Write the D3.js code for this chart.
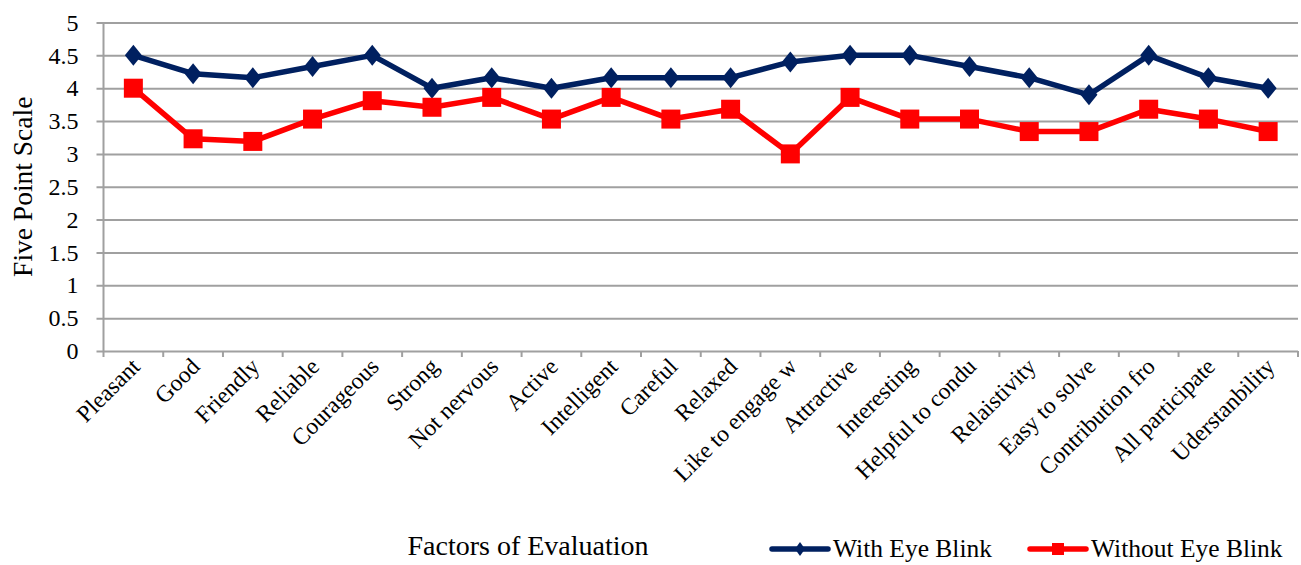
<!DOCTYPE html>
<html>
<head>
<meta charset="utf-8">
<script src="https://cdn.jsdelivr.net/npm/d3@7"></script>
<style>
  body { margin: 0; background: #fff; }
  text { font-family: "Liberation Serif", serif; fill: #000; }
</style>
</head>
<body>
<svg id="chart" width="1301" height="565"></svg>
<script>
// data
const factors = ['Pleasant', 'Good', 'Friendly', 'Reliable', 'Courageous', 'Strong', 'Not nervous',
    'Active', 'Intelligent', 'Careful', 'Relaxed', 'Like to engage w', 'Attractive', 'Interesting',
    'Helpful to condu', 'Relaistivity', 'Easy to solve', 'Contribution fro', 'All participate', 'Uderstanbility'];
const withBlink = [4.5, 4.22, 4.16, 4.33, 4.5, 4.0, 4.16, 4.0, 4.16, 4.16, 4.16, 4.4, 4.5, 4.5,
    4.33, 4.16, 3.9, 4.5, 4.16, 4.0];
const withoutBlink = [4.0, 3.23, 3.19, 3.53, 3.81, 3.71, 3.86, 3.53, 3.86, 3.53, 3.68, 3.0, 3.86, 3.53,
    3.53, 3.34, 3.34, 3.68, 3.53, 3.34];
const yTicks = [0, 0.5, 1, 1.5, 2, 2.5, 3, 3.5, 4, 4.5, 5];
const seriesNames = ['With Eye Blink', 'Without Eye Blink'];

const colors = {
    blue: '#002060',
    red: '#ff0000',
    grid: '#a0a0a0'
};
const fontFamily = '"Liberation Serif", serif';

const svg = d3.select('#chart');
const margin = {top: 22.5, right: 3, bottom: 214, left: 103.5};
const svgWidth = +svg.attr('width');
const svgHeight = +svg.attr('height');
const innerRight = svgWidth - margin.right;
const innerBottom = svgHeight - margin.bottom;

const xScale = d3.scaleBand()
    .domain(factors)
    .range([margin.left, innerRight]);

const yScale = d3.scaleLinear()
    .domain([0, 5])
    .range([innerBottom, margin.top]);

const cx = d => xScale(d) + xScale.bandwidth() / 2;

// gridlines + y tick labels
const yAxis = d3.axisLeft(yScale)
    .tickValues(yTicks)
    .tickFormat(d3.format('~g'))
    .tickSize(-(innerRight - margin.left + 7))
    .tickPadding(18);

const yG = svg.append('g')
    .attr('transform', `translate(${margin.left - 7}, 0)`)
    .call(yAxis)
    .attr('font-family', fontFamily);
yG.select('.domain').remove();
yG.selectAll('.tick line')
    .attr('stroke', colors.grid)
    .attr('stroke-width', 2);
yG.selectAll('.tick text')
    .attr('font-family', fontFamily)
    .style('font-size', '24px')
    .attr('fill', '#000');

// y axis line
svg.append('line')
    .attr('x1', margin.left).attr('x2', margin.left)
    .attr('y1', yScale(5)).attr('y2', yScale(0))
    .attr('stroke', colors.grid)
    .attr('stroke-width', 2);

// x axis ticks at category boundaries
const boundaries = factors.map(f => xScale(f)).concat([innerRight]);
svg.append('g')
    .selectAll('line')
    .data(boundaries)
    .enter()
    .append('line')
    .attr('x1', d => d).attr('x2', d => d)
    .attr('y1', yScale(0)).attr('y2', yScale(0) + 6)
    .attr('stroke', colors.grid)
    .attr('stroke-width', 2);

// x labels
svg.append('g')
    .selectAll('text')
    .data(factors)
    .enter()
    .append('text')
    .attr('transform', d => `translate(${cx(d) + 8}, ${yScale(0) + 17}) rotate(-45)`)
    .attr('text-anchor', 'end')
    .attr('font-family', fontFamily)
    .style('font-size', '23.5px')
    .text(d => d);

// lines
const line = d3.line()
    .x((d, i) => cx(factors[i]))
    .y(d => yScale(d));

const series = [
    {name: seriesNames[0], values: withBlink, color: colors.blue, symbol: d3.symbolDiamond},
    {name: seriesNames[1], values: withoutBlink, color: colors.red, symbol: d3.symbolSquare}
];

series.forEach(function (s) {
    svg.append('path')
        .datum(s.values)
        .attr('d', line)
        .attr('fill', 'none')
        .attr('stroke', s.color)
        .attr('stroke-width', 5.5)
        .attr('stroke-linejoin', 'round');
});

// markers
function drawMarker(g, s, x, y, big) {
    if (s.symbol === d3.symbolDiamond) {
        const w = big ? 8.5 : 5, h = big ? 10.5 : 7;
        g.append('path')
            .attr('d', `M${x},${y - h}L${x + w},${y}L${x},${y + h}L${x - w},${y}Z`)
            .attr('fill', s.color);
    } else {
        const r = big ? 9.5 : 6;
        g.append('rect')
            .attr('x', x - r).attr('y', y - r)
            .attr('width', 2 * r).attr('height', 2 * r)
            .attr('fill', s.color);
    }
}

series.forEach(function (s) {
    const g = svg.append('g');
    s.values.forEach((v, i) => drawMarker(g, s, cx(factors[i]), yScale(v), true));
});

// axis titles
svg.append('text')
    .attr('transform', `translate(32, ${(yScale(0) + yScale(5)) / 2}) rotate(-90)`)
    .attr('text-anchor', 'middle')
    .attr('font-family', fontFamily)
    .style('font-size', '27.5px')
    .text('Five Point Scale');

svg.append('text')
    .attr('x', 528)
    .attr('y', 555)
    .attr('text-anchor', 'middle')
    .attr('font-family', fontFamily)
    .style('font-size', '28px')
    .text('Factors of Evaluation');

// legend
const legendX = [772, 1030];
series.forEach(function (s, i) {
    const lg = svg.append('g').attr('transform', `translate(${legendX[i]}, 549)`);
    lg.append('line')
        .attr('x1', 0).attr('x2', 56)
        .attr('stroke', s.color)
        .attr('stroke-width', 5.5)
        .attr('stroke-linecap', 'round');
    drawMarker(lg, s, 28, 0, false);
    lg.append('text')
        .attr('x', 61)
        .attr('y', 8)
        .attr('font-family', fontFamily)
        .style('font-size', '25.5px')
        .text(s.name);
});
</script>
</body>
</html>
